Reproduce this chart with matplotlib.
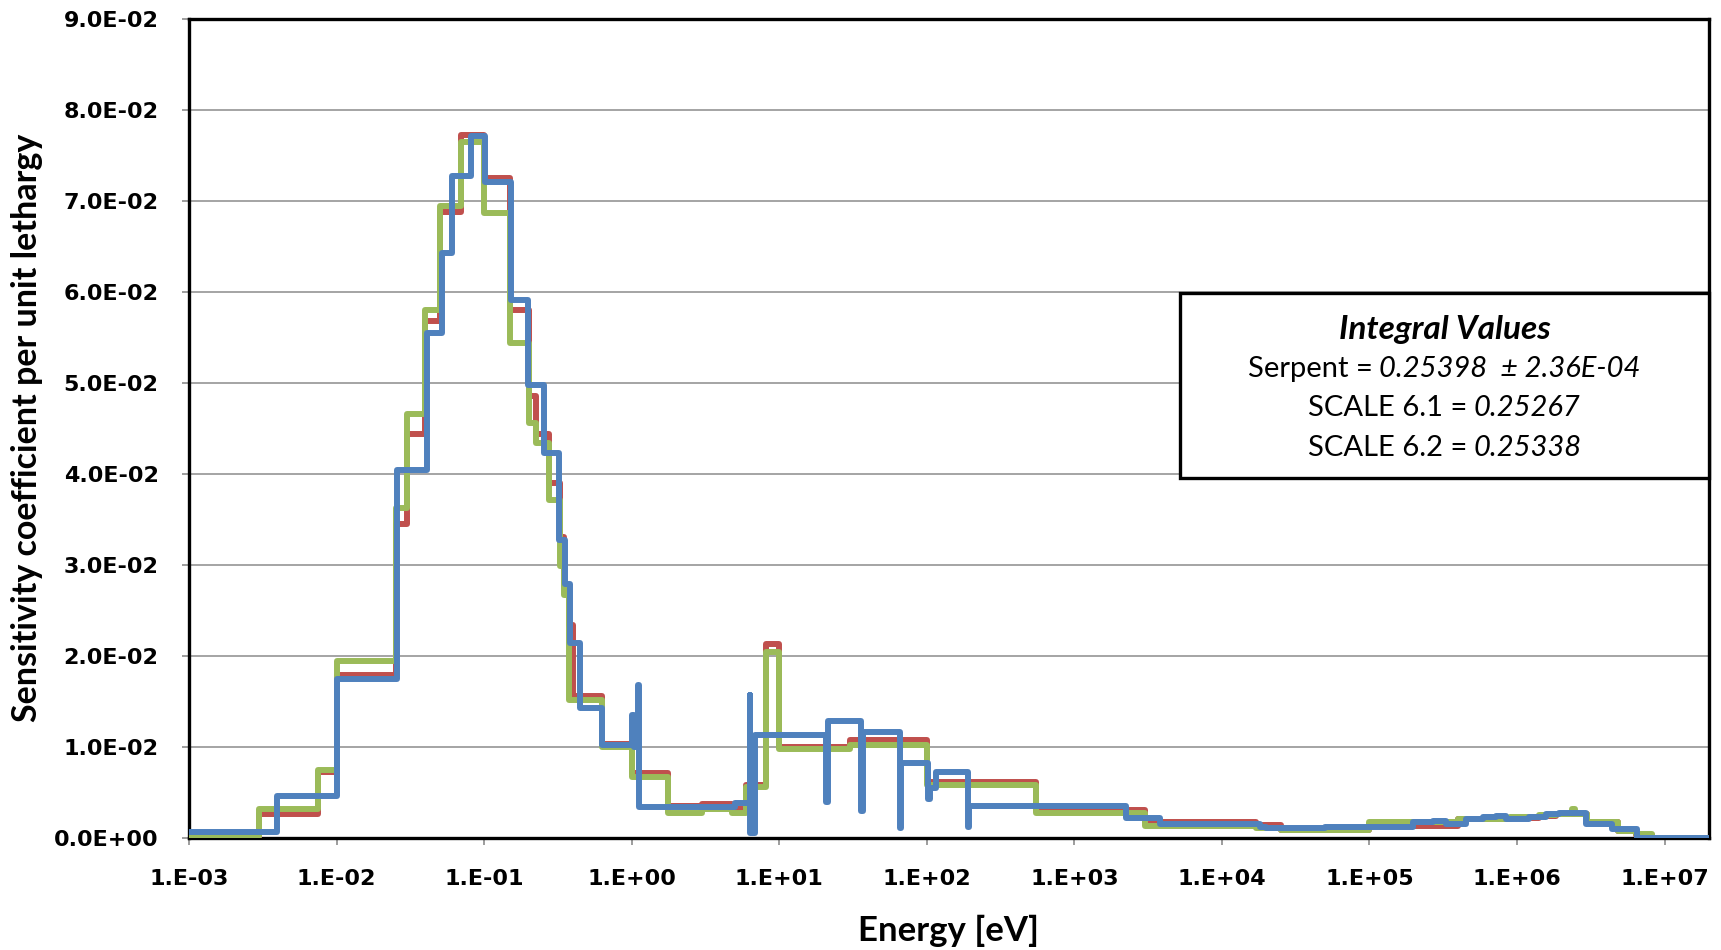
import numpy as np
import matplotlib
matplotlib.use("Agg")
import matplotlib.pyplot as plt
from matplotlib.ticker import FixedLocator, FuncFormatter, NullLocator
from matplotlib.patches import Rectangle
from matplotlib.font_manager import FontProperties

# ---------------- data ----------------
# SCALE group boundaries (eV) shared by SCALE 6.1 and SCALE 6.2
scale_edges = [1e-3, 3e-3, 7.5e-3, 1e-2, 2.53e-2, 3e-2, 4e-2, 5e-2, 7e-2, 0.1,
               0.15, 0.2, 0.225, 0.275, 0.325, 0.35, 0.375, 0.4, 0.625, 1.0,
               1.77, 3.0, 4.75, 6.0, 8.1, 10, 30, 100, 550, 3000,
               1.7e4, 2.5e4, 1e5, 4e5, 9e5, 1.4e6, 1.85e6, 2.354e6, 2.479e6, 3e6,
               4.8e6, 6.434e6, 8.187e6, 2e7]

scale61 = [0.0000, 0.0026, 0.0072, 0.0179, 0.0345, 0.0443, 0.0568, 0.0688, 0.0772, 0.0725,
           0.0580, 0.0485, 0.0443, 0.0390, 0.0330, 0.0275, 0.0234, 0.0155, 0.0103, 0.0071,
           0.0035, 0.0037, 0.0031, 0.0058, 0.0213, 0.0100, 0.0107, 0.0061, 0.0030, 0.0017,
           0.0014, 0.0008, 0.0013, 0.0020, 0.0021, 0.0024, 0.0026, 0.0028, 0.0026, 0.0017,
           0.0007, 0.0003, 0.0000]

scale62 = [0.0002, 0.0031, 0.0074, 0.0194, 0.0362, 0.0466, 0.0580, 0.0694, 0.0764, 0.0686,
           0.0544, 0.0456, 0.0434, 0.0371, 0.0298, 0.0267, 0.0151, 0.0151, 0.0100, 0.0066,
           0.0027, 0.0031, 0.0027, 0.0055, 0.0204, 0.0097, 0.0102, 0.0058, 0.0027, 0.0013,
           0.0010, 0.0008, 0.0017, 0.0020, 0.0023, 0.0025, 0.0026, 0.0031, 0.0026, 0.0017,
           0.0007, 0.0004, 0.0000]

# Serpent group boundaries (eV) and values
serpent_edges = [1e-3, 3.93e-3, 1e-2, 2.55e-2, 4.07e-2, 5.15e-2, 6.03e-2, 8.15e-2, 0.101, 0.153,
                 0.199, 0.254, 0.324, 0.355, 0.380, 0.447, 0.631, 1.0, 1.035, 1.11,
                 1.127, 5.0, 6.30, 6.33, 6.85, 20.9, 21.4, 36.1, 36.7, 65.6,
                 66.8, 102, 104.7, 114.8, 190.5, 193.6, 2254, 3793, 18030, 19950,
                 49660, 197200, 269200, 331100, 451900, 588800, 724400, 841400, 1.202e6, 1.570e6,
                 1.932e6, 2.924e6, 4.436e6, 6.546e6, 2e7]

serpent = [0.0006, 0.0046, 0.0174, 0.0404, 0.0554, 0.0643, 0.0727, 0.0771, 0.0721, 0.0591,
           0.0497, 0.0423, 0.0327, 0.0279, 0.0214, 0.0142, 0.0102, 0.0135, 0.0100, 0.0168,
           0.0034, 0.0038, 0.0157, 0.0005, 0.0113, 0.0039, 0.0128, 0.0029, 0.0116, 0.0010,
           0.0082, 0.0042, 0.0054, 0.0072, 0.0012, 0.0035, 0.0021, 0.0015, 0.0012, 0.0010,
           0.0012, 0.0017, 0.0018, 0.0015, 0.0020, 0.0022, 0.0024, 0.0020, 0.0023, 0.0026,
           0.0027, 0.0015, 0.0009, 0.0000]

xtick_exps = list(range(-3, 8))
ytick_vals = [0.0, 0.01, 0.02, 0.03, 0.04, 0.05, 0.06, 0.07, 0.08, 0.09]

box_title = "Integral Values"
box_lines = [("Serpent = ", "0.25398  \u00b1 2.36E-04"),
             ("SCALE 6.1 = ", "0.25267"),
             ("SCALE 6.2 = ", "0.25338")]

# ---------------- figure ----------------
W, H = 1721, 950
fig = plt.figure(figsize=(W / 100, H / 100), dpi=100)
L, R, T, B = 189, 1709, 18.7, 837.5
ax = fig.add_axes([L / W, 1 - B / H, (R - L) / W, (B - T) / H])

lw = 4.3
series = [(scale61, scale_edges, "#C0504D"),
          (scale62, scale_edges, "#9BBB59"),
          (serpent, serpent_edges, "#4F81BD")]
for vals, edges, col in series:
    p = ax.stairs(vals, edges, baseline=None, color=col, linewidth=lw, zorder=3)
    p.set_joinstyle("round")
    p.set_capstyle("round")

ax.set_xscale("log")
ax.set_xlim(1e-3, 2e7)
ax.set_ylim(0, 0.09)

ax.xaxis.set_major_locator(FixedLocator([10.0 ** e for e in xtick_exps]))
ax.xaxis.set_minor_locator(NullLocator())
ax.xaxis.set_major_formatter(FuncFormatter(lambda v, p: "1.E%+03d" % int(round(np.log10(v)))))
ax.yaxis.set_major_locator(FixedLocator(ytick_vals))
ax.yaxis.set_major_formatter(FuncFormatter(lambda v, p: "%.1E" % v))

ax.grid(axis="y", color="#8c8c8c", linewidth=1.1, zorder=1)
ax.set_axisbelow(True)

tickfp = FontProperties(family="DejaVu Sans", weight="bold", size=16)
for lab in ax.get_xticklabels() + ax.get_yticklabels():
    lab.set_fontproperties(tickfp)
ax.tick_params(axis="both", direction="out", length=5, width=1.2, color="#8c8c8c")
ax.tick_params(axis="y", pad=17)
ax.tick_params(axis="x", pad=18)

for s in ax.spines.values():
    s.set_color("black")
    s.set_linewidth(2.4)

ax.set_xlabel("Energy [eV]", fontfamily="Lato", fontweight="bold", fontsize=25, va="center")
ax.xaxis.set_label_coords(0.5, (B - 931) / (B - T))
ax.set_ylabel("Sensitivity coefficient per unit lethargy", fontfamily="Lato",
              fontweight="bold", fontsize=24.5, va="center")
ax.yaxis.set_label_coords((27.5 - L) / (R - L), 0.5)

# ---------------- text box ----------------
bx0, bx1, by0, by1 = 1180, 1709, 293, 478.5
rect = Rectangle((bx0 / W, 1 - by1 / H), (bx1 - bx0) / W, (by1 - by0) / H,
                 transform=fig.transFigure, facecolor="white", edgecolor="black",
                 linewidth=2.4, zorder=5)
fig.add_artist(rect)

cx = (bx0 + bx1) / 2
fs = 21
fig.text(cx / W, 1 - 329.5 / H, box_title, ha="center", va="center", fontfamily="Lato",
         fontweight="bold", fontstyle="italic", fontsize=24, zorder=6)

renderer = fig.canvas.get_renderer()
line_y = [369, 408.5, 448]
gap = 6
for (a, b), yy in zip(box_lines, line_y):
    t1 = fig.text(0, 1 - yy / H, a.rstrip(), ha="left", va="center", fontfamily="Lato",
                  fontsize=fs, zorder=6)
    t2 = fig.text(0, 1 - yy / H, b, ha="left", va="center", fontfamily="Lato",
                  fontstyle="italic", fontsize=fs, zorder=6)
    w1 = t1.get_window_extent(renderer).width
    w2 = t2.get_window_extent(renderer).width
    total = w1 + gap + w2
    start = cx - total / 2
    t1.set_x(start / W)
    t2.set_x((start + w1 + gap) / W)

fig.savefig("out.png", dpi=100)
